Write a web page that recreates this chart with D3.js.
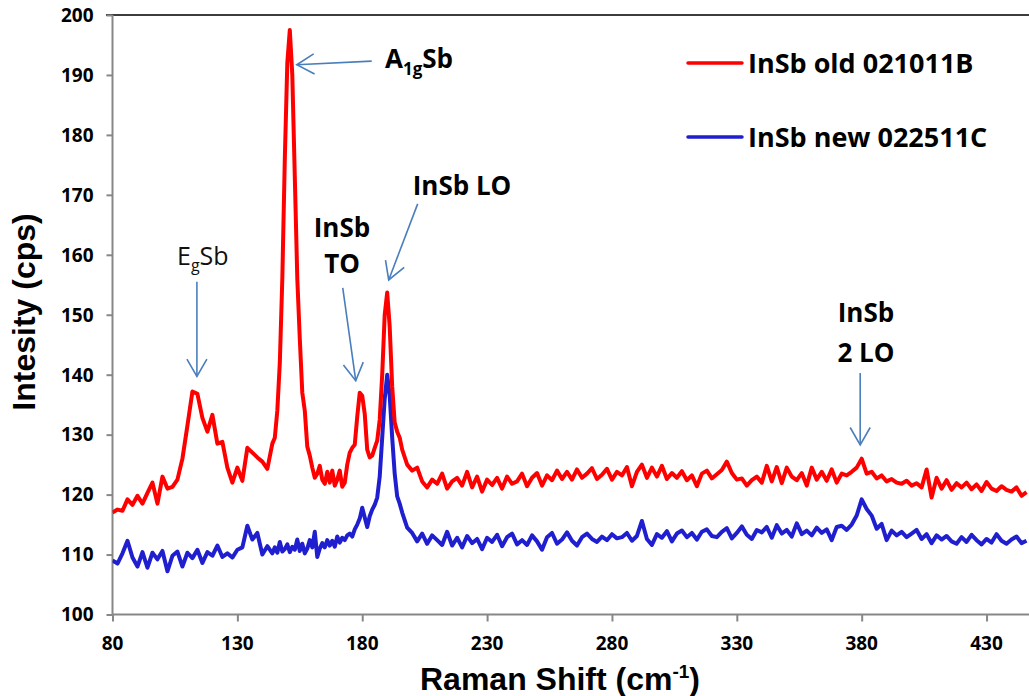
<!DOCTYPE html>
<meta charset="utf-8">
<html lang="en">
<head>
<script src="https://d3js.org/d3.v7.min.js"></script>
<style>
  body { margin: 0; background: #fff; }
  svg { display: block; }
  .tick-label { font-family: "Open Sans", sans-serif; font-weight: bold; font-size: 19px; fill: #000; }
  .axis-title { font-family: "Liberation Sans", Arial, sans-serif; font-weight: bold; font-size: 32px; fill: #000; }
  .legend-text { font-family: "Open Sans", sans-serif; font-weight: bold; font-size: 27px; fill: #000; }
  .note { font-family: "Open Sans", sans-serif; font-weight: bold; font-size: 26px; fill: #000; }
  .note-light { font-family: "Open Sans", sans-serif; font-size: 25px; fill: #111; }
</style>
</head>
<body>
<svg></svg>
</body>
</html>
<script>
// Raman shift (cm-1) sampled points, same grid for both samples
var shift = [
  80,82,84,86,88,90,92,94,96,98,
  100,102,104,106,108,110,112,114,116,118,
  120,122,124,126,128,130,132,134,136,138,
  140,142,144,
  145,146,147,148,149,150,151,152,153,154,
  155,156,157,158,159,160,161,162,163,164,
  165,166,167,168,169,170,171,172,173,174,
  175,176,177,178,179,180,181,182,183,184,
  185,186,187,188,189,190,191,192,193,194,
  195,196,
  198,200,202,204,206,208,210,212,214,216,
  218,220,222,224,226,228,230,232,234,236,
  238,240,242,244,246,248,250,252,254,256,
  258,260,262,264,266,268,270,272,274,276,
  278,280,282,284,286,288,290,292,294,296,
  298,300,302,304,306,308,310,312,314,316,
  318,320,322,324,326,328,330,332,334,336,
  338,340,342,344,346,348,350,352,354,356,
  358,360,362,364,366,368,370,372,374,376,
  378,380,382,384,386,388,390,392,394,396,
  398,400,402,404,406,408,410,412,414,416,
  418,420,422,424,426,428,430,432,434,436,
  438,440,442,444,446
];

// InSb old 021011B (cps)
var oldSample = [
  117,117.5,117.3,119.2,118.3,119.8,118.5,120.3,122,118.5,
  123,121,121.3,122.5,126,131.5,137.2,136.8,132.8,130.5,
  133.3,128.5,128.8,124.5,122,124.5,122.3,127.8,127,126.2,
  125.5,124.3,128.5,
  129.5,134,142,156,176,192,197.5,190,173,156,
  146,137,134,128,126.5,124.5,122.8,123.5,124.8,122.5,
  121.8,123.8,122,124,121.5,122.5,124,121.3,122,125,
  127,127.8,128.3,133,137,136.5,133.5,127.5,126.2,126.5,
  127.8,129,132.5,140,150,153.7,148,138,132,130.5,
  129.5,127.5,
  125,124,124.5,122.2,121.2,122.5,121.8,123.5,121,122.2,
  122.8,121.5,123.8,121.2,123,120.5,122.5,121.6,122.8,121,
  123,121.8,122.2,123.5,121.4,122.8,123.6,121.5,123.2,122.4,
  124,122.6,123.8,122.5,124.2,122.8,123.5,124.4,122.6,123.3,
  124.3,122.5,123.8,123.2,124.6,121.4,123.8,125,122.8,124.5,
  123,124.8,122.6,123.6,122.8,123.9,122.4,123.2,121.4,123.5,
  124,122.7,123.4,124.1,125.5,123.6,122.5,122.7,121.5,122.4,
  123,122,124.8,122.2,124.6,121.9,124.5,123,122.4,123.6,
  121.5,124.5,122.5,123.8,122.3,124.2,122,123.5,123.2,123.8,
  124.5,126,123.5,123.8,122.7,123.2,122.2,122.6,122,121.8,
  122.3,121.5,121.9,121.2,124.2,119.5,122.8,121,122.4,120.8,
  121.9,121.2,122,120.9,121.7,120.6,122.1,121,120.6,121.4,
  120.8,120.5,121.2,119.8,120.4
];

// InSb new 022511C (cps)
var newSample = [
  109,108.5,110.2,112.3,109.5,108,110.4,107.8,110.3,109.2,
  110.6,107.2,109.8,110.5,108,110.3,109.4,110.8,108.6,110.4,
  109.8,111.5,109.6,110.2,109.5,110.8,111.2,114.8,112.5,113.6,
  110,111.4,110.2,
  111.2,110.3,112.1,110.5,110.9,111.7,110.4,111.3,110.8,112.5,
  110.6,111.8,110.2,111,112.4,111.2,113.8,109.6,111,111.9,
  111.2,112.4,111.5,112.3,111.3,113,112,112.8,112.4,113.2,
  113.5,113,114.2,115,116,117.8,116.2,114.6,116.4,117.5,
  118.3,119.5,123,129.5,136,140,136.5,129.5,123.5,119.7,
  118.5,117,
  114.5,113.6,112.2,113.5,111.8,113.2,112.4,111.6,113.8,111.5,
  112.8,111.2,113.1,111.9,112.6,110.9,112.8,112.1,113.3,111.4,
  112.9,113.5,111.7,112.4,111.6,113.2,112.2,110.8,112.9,113.6,
  111.8,112.5,113.7,112.3,111.5,112.9,113.5,112.6,112.1,113,
  112.4,113.4,112.7,112.9,113.6,112.3,113.1,115.6,112.6,111.6,
  113.4,112.8,113.9,112.2,113.5,114,112.9,113.6,112.5,113.8,
  114.2,113.1,112.9,113.8,114.4,112.7,113.6,114.7,113.3,112.6,
  114.1,113.7,114.6,112.8,114.9,113.5,114.1,113,115.2,113.4,
  114,113.2,114.5,113.6,114.2,112.4,114.6,114.8,114.1,115,
  116.5,119.2,117.6,116.5,114.3,115.1,112.4,114,113.2,113.8,
  112.9,113.5,114.1,112.6,113.4,111.9,113.2,112.5,113.1,112.2,
  111.8,112.9,112.1,113.3,112.4,111.7,112.6,112,113.4,112.3,
  111.8,112.5,113,111.9,112.3
];

var seriesNames = ["InSb old 021011B", "InSb new 022511C"];
var seriesColors = ["#ff0000", "#1f1fcf"];
var xTicks = [80, 130, 180, 230, 280, 330, 380, 430];
var yTicks = [100, 110, 120, 130, 140, 150, 160, 170, 180, 190, 200];

let width = 1029, height = 696;
let svg = d3.select("svg").attr("width", width).attr("height", height);

var x = d3.scaleLinear().domain([80, 447]).range([112.5, 1029]);
var y = d3.scaleLinear().domain([100, 200]).range([614.5, 15]);

var axisColor = "#878787";

// clip for the traces
svg.append("defs").append("clipPath").attr("id", "plot-clip")
  .append("rect").attr("x", 112.5).attr("y", 0).attr("width", width - 112.5).attr("height", 616);

// top border of plot area
svg.append("line")
  .attr("x1", 106).attr("x2", width).attr("y1", y(200)).attr("y2", y(200))
  .attr("stroke", "#3c3c3c").attr("stroke-width", 2);

// y axis
var yAxis = svg.append("g").attr("transform", "translate(" + x(80) + ",0)")
  .call(d3.axisLeft(y).tickValues(yTicks).tickSize(6).tickFormat(""));
yAxis.selectAll("path, line").attr("stroke", axisColor).attr("stroke-width", 2);
yAxis.select(".domain").attr("d", "M0," + y(100) + "V" + y(200));

svg.append("g").selectAll("text").data(yTicks).enter().append("text")
  .attr("class", "tick-label")
  .attr("x", 61).attr("y", d => y(d)).attr("dy", "0.36em")
  .text(d => d);

// x axis
var xAxis = svg.append("g").attr("transform", "translate(0," + y(100) + ")")
  .call(d3.axisBottom(x).tickValues(xTicks).tickSize(7).tickFormat(""));
xAxis.selectAll("path, line").attr("stroke", axisColor).attr("stroke-width", 2);
xAxis.select(".domain").attr("d", "M" + x(80) + ",0H" + width);

svg.append("g").selectAll("text").data(xTicks).enter().append("text")
  .attr("class", "tick-label")
  .attr("x", d => x(d)).attr("y", 650).attr("text-anchor", "middle")
  .text(d => d);

// axis titles
svg.append("text").attr("class", "axis-title")
  .attr("transform", "translate(35,312) rotate(-90)")
  .attr("text-anchor", "middle")
  .text("Intesity (cps)");

var xt = svg.append("text").attr("class", "axis-title")
  .attr("x", 560).attr("y", 690).attr("text-anchor", "middle");
xt.append("tspan").text("Raman Shift (cm");
xt.append("tspan").attr("font-size", 19).attr("dy", -12).text("-1");
xt.append("tspan").attr("dy", 12).text(")");

// traces
var line = d3.line().x(d => x(d[0])).y(d => y(d[1]));
var traces = [d3.zip(shift, oldSample), d3.zip(shift, newSample)];

svg.append("g").attr("clip-path", "url(#plot-clip)")
  .selectAll("path").data([1, 0]).enter().append("path")
  .attr("d", i => line(traces[i]))
  .attr("fill", "none")
  .attr("stroke", i => seriesColors[i])
  .attr("stroke-width", 4)
  .attr("stroke-linejoin", "round");

// legend
var legend = svg.selectAll("g.legendEntry").data(seriesNames).enter()
  .append("g").attr("class", "legendEntry")
  .attr("transform", (d, i) => "translate(0," + (63 + i * 74) + ")");
legend.append("line")
  .attr("x1", 688).attr("x2", 742).attr("y1", 0).attr("y2", 0)
  .attr("stroke", (d, i) => seriesColors[i]).attr("stroke-width", 3.5)
  .attr("stroke-linecap", "round");
legend.append("text").attr("class", "legend-text")
  .attr("x", 748).attr("y", 10)
  .text(d => d);

// annotation arrows: [tailX, tailY, tipX, tipY] in data units
var arrows = [
  [183.8, 192.3, 153.8, 191.7],
  [113.8, 155.5, 113.8, 139.7],
  [172.2, 154.5, 177.4, 139.0],
  [202.2, 168.5, 190.6, 155.8],
  [379.4, 140.3, 379.4, 128.3]
];
var arrowColor = "#4a7ebb";
var ag = svg.append("g").attr("stroke", arrowColor).attr("stroke-width", 1.6).attr("fill", "none");
arrows.forEach(function(a) {
  var x1 = x(a[0]), y1 = y(a[1]), x2 = x(a[2]), y2 = y(a[3]);
  var ang = Math.atan2(y1 - y2, x1 - x2);
  var len = 20, spread = Math.PI / 6;
  ag.append("line").attr("x1", x1).attr("y1", y1).attr("x2", x2).attr("y2", y2);
  ag.append("path").attr("d",
    "M" + (x2 + len * Math.cos(ang + spread)) + "," + (y2 + len * Math.sin(ang + spread)) +
    "L" + x2 + "," + y2 +
    "L" + (x2 + len * Math.cos(ang - spread)) + "," + (y2 + len * Math.sin(ang - spread)));
});

// annotation labels
var a1g = svg.append("text").attr("class", "note").attr("x", 385).attr("y", 68);
a1g.append("tspan").text("A");
a1g.append("tspan").attr("font-size", 17).attr("dy", 7).text("1g");
a1g.append("tspan").attr("dy", -7).text("Sb");

var eg = svg.append("text").attr("class", "note-light").attr("x", 177).attr("y", 265);
eg.append("tspan").text("E");
eg.append("tspan").attr("font-size", 16).attr("dy", 6).text("g");
eg.append("tspan").attr("dy", -6).text("Sb");

svg.append("text").attr("class", "note").attr("x", 342).attr("y", 237).attr("text-anchor", "middle").text("InSb");
svg.append("text").attr("class", "note").attr("x", 342).attr("y", 273).attr("text-anchor", "middle").text("TO");
svg.append("text").attr("class", "note").attr("x", 462).attr("y", 195).attr("text-anchor", "middle").text("InSb LO");
svg.append("text").attr("class", "note").attr("x", 866).attr("y", 322).attr("text-anchor", "middle").text("InSb");
svg.append("text").attr("class", "note").attr("x", 866).attr("y", 362).attr("text-anchor", "middle").text("2 LO");
</script>
